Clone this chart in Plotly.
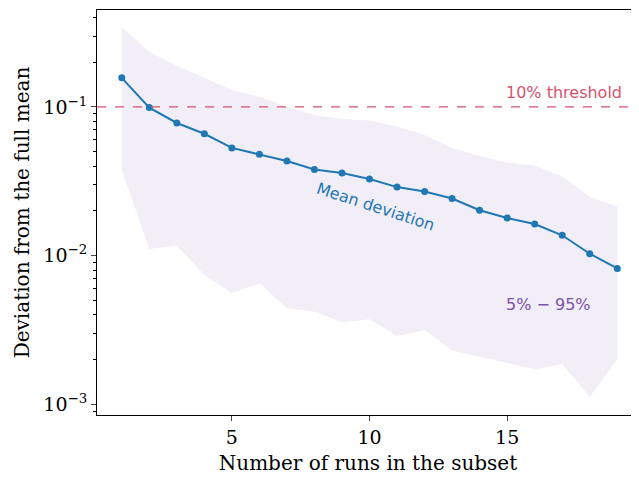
import plotly.graph_objects as go

runs = list(range(1, 20))
mean_dev = [0.157, 0.099, 0.078, 0.066, 0.053, 0.048, 0.0433, 0.038, 0.036, 0.0328,
            0.0289, 0.027, 0.0242, 0.0202, 0.0179, 0.0163, 0.0137, 0.0103, 0.0082]
upper95 = [0.343, 0.235, 0.189, 0.157, 0.130, 0.117, 0.100, 0.0884, 0.083, 0.0809,
           0.0738, 0.0648, 0.053, 0.0468, 0.0422, 0.0403, 0.034, 0.0249, 0.0214]
lower5 = [0.0377, 0.0111, 0.0117, 0.00741, 0.00558, 0.00652, 0.00443, 0.0042, 0.00356, 0.00373,
          0.00288, 0.00316, 0.0023, 0.00209, 0.00191, 0.00172, 0.00187, 0.00112, 0.00201]
threshold = 0.1
x_ticks = [5, 10, 15]
y_ticks = [1e-3, 1e-2, 1e-1]
y_tick_text = ["10<sup>−3</sup>", "10<sup>−2</sup>", "10<sup>−1</sup>"]

blue = "#1f77b4"
red = "#d6536e"
purple = "#7b52a8"
band = "#f1eef7"

minor_vals = []
for d in [1e-4, 1e-3, 1e-2, 1e-1]:
    for k in range(2, 10):
        minor_vals.append(k * d)

fig = go.Figure()
fig.add_trace(go.Scatter(x=runs, y=upper95, mode="lines", line=dict(width=0),
                         hoverinfo="skip", showlegend=False))
fig.add_trace(go.Scatter(x=runs, y=lower5, mode="lines", line=dict(width=0),
                         fill="tonexty", fillcolor=band, hoverinfo="skip", showlegend=False))
fig.add_trace(go.Scatter(x=runs, y=mean_dev, mode="lines+markers",
                         line=dict(color=blue, width=2), marker=dict(color=blue, size=7),
                         showlegend=False))

fig.add_shape(type="line", xref="paper", x0=0, x1=1, yref="y", y0=threshold, y1=threshold,
              line=dict(color=red, width=1.3, dash="dash"))

sans = "DejaVu Sans"
fig.add_annotation(x=19.25, y=-1, yref="y", yshift=3, text="10% threshold", showarrow=False,
                   xanchor="right", yanchor="bottom", font=dict(family=sans, size=16, color=red))
fig.add_annotation(x=10.2, y=-1.672, yref="y", text="Mean deviation", showarrow=False,
                   textangle=18, font=dict(family=sans, size=16, color=blue))
fig.add_annotation(x=16.5, y=-2.33, yref="y", text="5% − 95%", showarrow=False,
                   font=dict(family=sans, size=16, color=purple))

serif = "DejaVu Serif"
fig.update_layout(
    width=631, height=469,
    margin=dict(l=89, r=0, t=2, b=62),
    plot_bgcolor="white", paper_bgcolor="white",
    font=dict(family=serif, size=19, color="black"),
    xaxis=dict(range=[0.1, 19.79], tickvals=x_ticks, ticks="outside", ticklen=5,
               tickwidth=1, showgrid=False, zeroline=False, showline=True, mirror=True,
               linecolor="black", linewidth=1.2, automargin=False,
               title=dict(text="Number of runs in the subset", standoff=9,
                          font=dict(family=serif, size=20)),
               tickfont=dict(family=serif, size=19)),
    yaxis=dict(type="log", range=[-3.072, -0.348], tickvals=y_ticks, ticktext=y_tick_text,
               ticks="outside", ticklen=5, tickwidth=1, showgrid=False, zeroline=False,
               showline=True, mirror=False, linecolor="black", linewidth=1.2, automargin=False,
               minor=dict(tickmode="array", tickvals=minor_vals, ticks="outside",
                          ticklen=3, tickwidth=0.8, tickcolor="black", showgrid=False),
               title=dict(text="Deviation from the full mean", standoff=8,
                          font=dict(family=serif, size=20)),
               tickfont=dict(family=serif, size=19)),
)

fig.write_html("out.html")
